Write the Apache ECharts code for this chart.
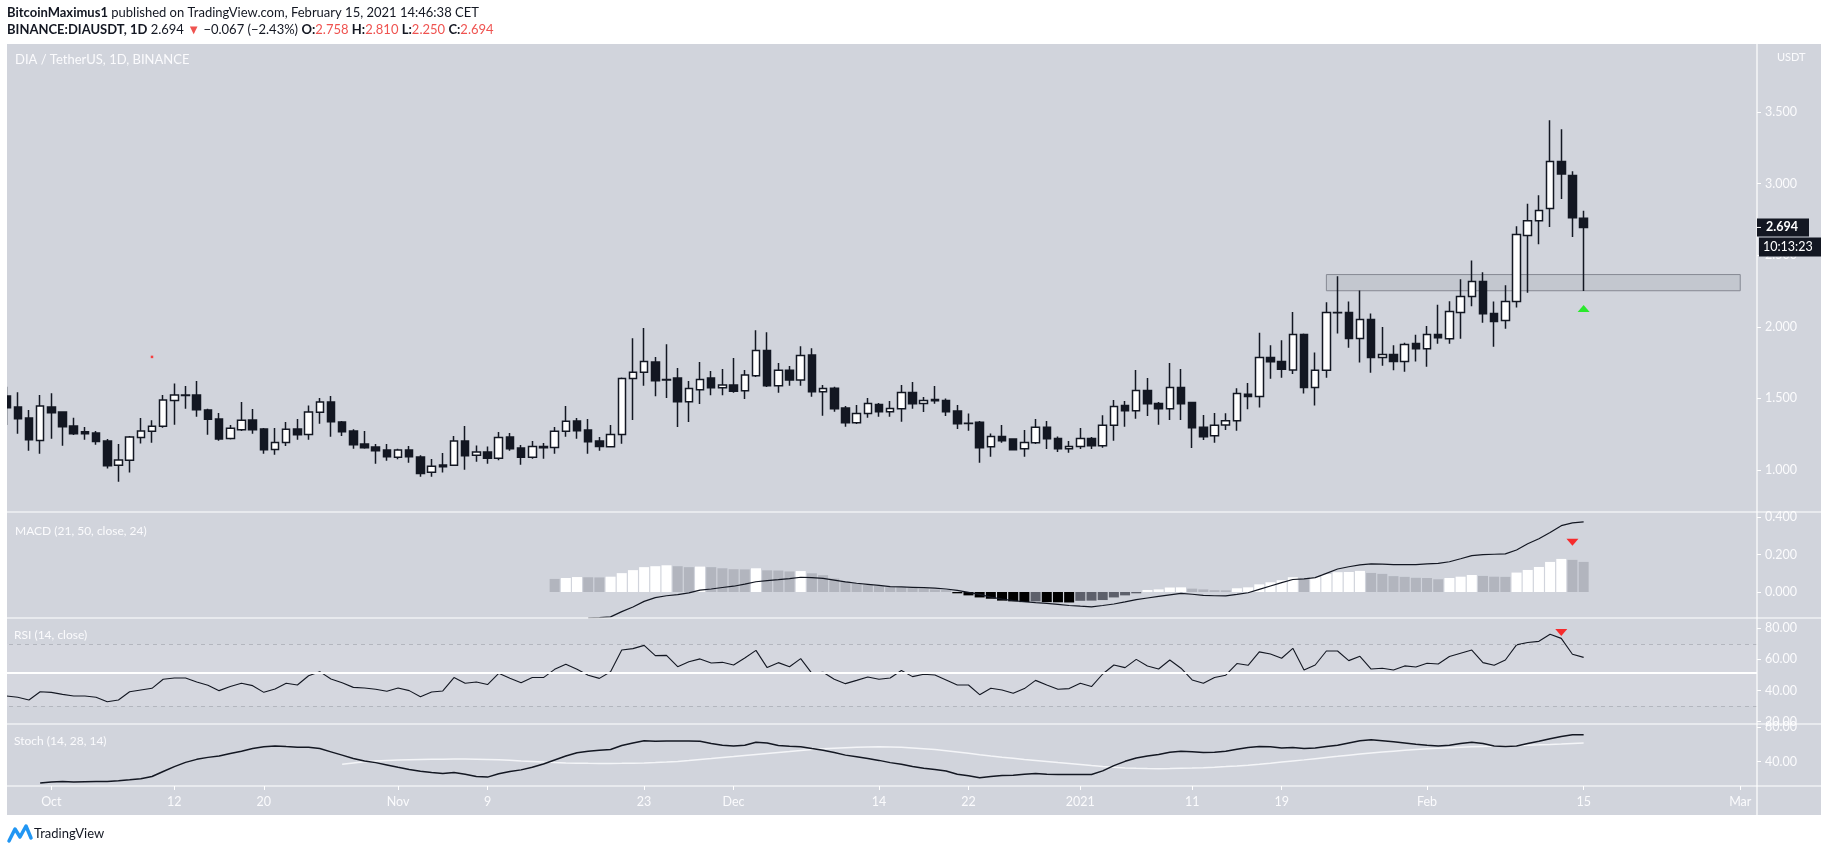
<!DOCTYPE html>
<html><head><meta charset="utf-8">
<script src="https://cdn.jsdelivr.net/npm/echarts@6/dist/echarts.min.js"></script>
<style>html,body{margin:0;padding:0;background:#fff;}#c{width:1828px;height:852px;}</style>
</head><body><div id="c"></div>
<script>
// ---------- categories (daily, Sep 27 2020 .. Mar 2 2021) ----------
const firstDay = '2020-09-27';
const dayCount = 157;
const dates = [];
(function(){ const t0 = Date.parse(firstDay + 'T00:00:00Z');
  for (let i = 0; i < dayCount; i++) dates.push(new Date(t0 + i*86400000).toISOString().slice(0,10)); })();

// ---------- time-axis tick labels ----------
const tickDates  = ['2020-10-01','2020-10-12','2020-10-20','2020-11-01','2020-11-09','2020-11-23','2020-12-01','2020-12-14','2020-12-22','2021-01-01','2021-01-11','2021-01-19','2021-02-01','2021-02-15','2021-03-01'];
const tickLabels = ['Oct','12','20','Nov','9','23','Dec','14','22','2021','11','19','Feb','15','Mar'];

// ---------- price axis / indicator tick values ----------
const priceTicks = [1.0,1.5,2.0,2.5,3.0,3.5];
const macdTicks  = [0,0.2,0.4];
const rsiTicks   = [20,40,60,80];
const stochTicks = [40,80];

// ---------- OHLC (Sep 27 2020 .. Feb 15 2021) ----------
const open = [1.517,1.440,1.363,1.207,
 1.440,1.405,1.307,1.268,1.258,1.203,1.033,1.068,1.228,1.270,
 1.305,1.486,1.524,1.524,1.419,1.356,1.221,1.282,1.349,1.286,
 1.144,1.193,1.286,1.249,1.403,1.475,1.335,1.272,1.182,1.161,1.140,
 1.089,1.140,1.091,0.984,1.035,1.033,1.203,1.103,1.126,1.082,
 1.230,1.154,1.089,1.165,1.158,1.270,1.342,1.279,1.203,1.163,
 1.249,1.640,1.682,1.754,1.633,1.642,1.477,1.561,1.642,1.575,
 1.593,1.554,1.658,1.835,1.589,1.696,1.628,1.803,1.547,1.572,
 1.433,1.330,1.395,1.458,1.407,1.428,1.542,1.465,1.493,1.486,
 1.412,1.325,1.333,1.163,1.235,1.216,1.149,1.191,1.298,1.221,1.149,
 1.165,1.221,1.170,1.312,1.451,1.414,1.556,1.465,1.428,1.577,
 1.472,1.298,1.240,1.314,1.344,1.530,1.514,1.786,1.758,1.698,
 1.947,1.577,1.696,2.100,2.100,1.919,2.051,1.786,1.807,1.758,1.884,
 1.847,1.947,1.917,2.100,2.212,2.317,2.093,2.044,2.177,2.638,
 2.740,2.826,3.154,3.056,2.758];
const high = [1.582,1.544,1.419,1.524,
 1.537,1.410,1.365,1.300,1.272,1.217,1.182,1.238,1.363,1.347,
 1.524,1.605,1.586,1.621,1.428,1.398,1.314,1.475,1.426,1.293,
 1.293,1.335,1.356,1.451,1.503,1.517,1.342,1.284,1.272,1.182,1.182,
 1.149,1.168,1.103,1.077,1.119,1.238,1.307,1.172,1.165,1.265,
 1.258,1.175,1.203,1.189,1.300,1.447,1.363,1.356,1.230,1.314,
 1.647,1.921,1.991,1.789,1.879,1.712,1.621,1.754,1.691,1.705,
 1.782,1.698,1.977,1.963,1.747,1.726,1.865,1.851,1.593,1.582,
 1.447,1.454,1.503,1.468,1.482,1.593,1.614,1.510,1.586,1.500,
 1.454,1.395,1.342,1.256,1.314,1.221,1.279,1.356,1.342,1.235,1.202,
 1.293,1.230,1.382,1.489,1.482,1.698,1.642,1.475,1.747,1.705,
 1.475,1.384,1.398,1.396,1.572,1.607,1.958,1.872,1.907,2.103,
 1.954,1.821,2.172,2.354,2.177,2.254,2.093,1.998,1.872,1.889,1.944,
 2.005,2.154,2.179,2.333,2.463,2.382,2.177,2.291,2.703,2.859,
 2.919,3.442,3.380,3.087,2.810];
const low = [1.314,1.254,1.135,1.114,
 1.219,1.170,1.245,1.212,1.177,1.010,0.919,0.982,1.186,1.191,
 1.296,1.317,1.428,1.372,1.247,1.205,1.214,1.272,1.254,1.114,
 1.107,1.168,1.212,1.212,1.323,1.233,1.238,1.149,1.149,1.044,1.065,
 1.075,1.051,0.954,0.954,0.982,1.030,1.002,1.058,1.044,1.068,
 1.135,1.037,1.079,1.079,1.114,1.233,1.219,1.114,1.135,1.158,
 1.184,1.349,1.589,1.516,1.503,1.300,1.335,1.461,1.523,1.523,
 1.540,1.496,1.650,1.579,1.540,1.589,1.589,1.512,1.379,1.407,
 1.302,1.321,1.365,1.372,1.372,1.337,1.428,1.405,1.463,1.377,
 1.286,1.275,1.051,1.093,1.191,1.140,1.093,1.181,1.147,1.126,1.121,
 1.147,1.147,1.156,1.205,1.302,1.358,1.377,1.316,1.349,1.349,
 1.154,1.209,1.191,1.279,1.275,1.424,1.437,1.637,1.644,1.670,
 1.535,1.451,1.644,1.954,1.854,1.751,1.679,1.728,1.696,1.686,1.758,
 1.721,1.882,1.882,1.917,2.144,2.028,1.861,1.986,2.135,2.238,
 2.577,2.698,2.893,2.628,2.250];
const close = [1.435,1.358,1.212,1.447,
 1.400,1.303,1.254,1.254,1.200,1.030,1.070,1.230,1.272,1.305,
 1.489,1.524,1.521,1.421,1.354,1.217,1.291,1.347,1.282,1.142,
 1.193,1.284,1.247,1.405,1.475,1.337,1.268,1.177,1.156,1.135,1.093,
 1.140,1.093,0.975,1.026,1.023,1.203,1.100,1.126,1.082,1.228,
 1.149,1.089,1.165,1.156,1.270,1.340,1.275,1.198,1.165,1.249,
 1.640,1.682,1.758,1.623,1.628,1.477,1.570,1.633,1.575,1.593,
 1.551,1.663,1.835,1.589,1.696,1.628,1.800,1.547,1.570,1.428,
 1.330,1.395,1.465,1.407,1.430,1.542,1.463,1.486,1.484,1.407,
 1.323,1.326,1.156,1.235,1.205,1.142,1.193,1.298,1.219,1.149,1.165,
 1.221,1.170,1.312,1.444,1.414,1.556,1.463,1.428,1.577,1.463,
 1.296,1.233,1.312,1.344,1.535,1.514,1.786,1.756,1.703,1.947,
 1.577,1.696,2.100,2.098,1.919,2.051,1.786,1.807,1.758,1.877,1.847,
 1.947,1.924,2.107,2.212,2.317,2.091,2.037,2.177,2.645,2.740,
 2.812,3.154,3.068,2.761,2.694];

// ---------- MACD (21, 50, close, 24) ----------
const macdHistStart = '2020-11-15';
const macdHistValues = [0.070,0.075,0.080,0.079,0.078,0.082,
 0.101,0.117,0.133,0.138,0.143,0.138,0.133,0.136,0.133,0.127,
 0.122,0.121,0.127,0.116,0.115,0.110,0.112,0.100,0.090,0.072,
 0.057,0.047,0.039,0.032,0.026,0.025,0.021,0.018,0.014,0.011,
 -0.007,-0.018,-0.029,-0.036,-0.046,-0.050,-0.054,-0.050,-0.054,-0.055,-0.056,
 -0.047,-0.046,-0.043,-0.029,-0.018,-0.007,0.011,0.014,0.024,0.025,
 0.018,0.014,0.010,0.009,0.020,0.025,0.041,0.052,0.063,0.079,
 0.070,0.080,0.096,0.106,0.107,0.113,0.102,0.097,0.085,0.081,0.076,
 0.075,0.068,0.075,0.082,0.091,0.086,0.082,0.081,0.104,0.118,
 0.134,0.161,0.177,0.172,0.161];
const macdLineStart = '2020-11-18';
const macdLineValues = [-0.139,-0.137,-0.133,
 -0.105,-0.080,-0.050,-0.030,-0.020,-0.014,-0.005,0.010,0.016,0.024,
 0.031,0.042,0.055,0.061,0.066,0.072,0.079,0.077,0.073,0.064,
 0.054,0.047,0.041,0.035,0.029,0.027,0.025,0.023,0.021,0.016,
 0.009,-0.002,-0.013,-0.027,-0.038,-0.046,-0.052,-0.057,-0.061,-0.066,-0.072,
 -0.076,-0.079,-0.072,-0.064,-0.053,-0.041,-0.032,-0.023,-0.015,-0.007,
 -0.012,-0.018,-0.020,-0.021,-0.013,-0.004,0.014,0.032,0.050,0.067,
 0.070,0.077,0.100,0.123,0.135,0.145,0.150,0.149,0.147,0.146,0.147,
 0.150,0.153,0.162,0.178,0.195,0.200,0.202,0.204,0.225,0.258,
 0.285,0.318,0.355,0.370,0.375];

// ---------- RSI (14, close), from Sep 27 ----------
const rsiValues = [36.5,35.6,33.9,39.2,
 38.8,37.5,36.5,36.5,35.6,32.8,33.9,39.2,40.3,41.4,
 47.2,48.0,48.0,45.5,43.3,39.9,42.5,44.6,43.1,38.8,
 41.0,44.6,43.5,49.5,52.1,47.4,45.0,42.0,41.6,40.8,39.5,
 41.6,39.9,36.0,39.0,39.7,48.3,44.6,45.5,43.8,51.0,
 47.8,45.0,48.3,48.3,53.6,56.8,53.6,49.8,47.8,52.1,
 66.0,66.9,69.0,62.4,62.6,55.3,58.5,60.3,57.7,58.1,
 56.4,60.9,65.8,54.7,57.9,55.3,60.5,51.0,51.7,47.2,
 44.4,46.5,48.7,47.2,48.0,52.8,48.9,50.4,50.0,46.8,
 43.5,43.5,37.3,41.4,40.3,38.2,41.2,46.5,43.5,40.8,41.2,
 44.6,42.5,50.6,56.4,54.7,60.0,55.8,53.8,59.6,54.3,
 46.8,44.6,48.3,49.8,57.3,56.2,64.8,63.5,60.7,67.1,
 53.2,56.4,65.4,65.4,59.2,62.0,53.8,54.3,53.2,55.8,55.1,
 57.5,57.0,61.8,63.9,66.0,57.9,56.2,59.6,69.3,70.8,
 71.6,76.1,73.5,63.3,61.3];
const rsiUpper = 70, rsiLower = 30, rsiLevel = 51.5;

// ---------- Stoch (14, 28, 14) ----------
const stochKStart = '2020-09-30';
const stochKValues = [15.2,
 16.4,17.1,16.4,16.8,17.1,17.1,17.9,19.0,20.2,22.8,
 28.6,34.3,39.2,42.7,45.0,46.5,49.5,52.2,55.2,57.2,
 58.3,57.5,56.8,56.8,55.2,51.4,47.6,43.8,40.8,38.9,36.2,
 33.5,30.9,29.0,27.4,26.3,27.4,25.5,22.8,22.1,25.9,
 28.6,30.5,33.5,37.3,41.9,46.5,50.3,52.2,53.3,54.1,
 58.7,61.7,64.4,63.6,64.0,64.0,64.0,63.6,61.0,59.0,
 58.3,59.0,62.5,61.7,58.7,57.9,57.2,55.2,53.3,50.6,
 47.6,45.7,43.8,41.5,38.9,37.0,34.3,32.4,30.9,29.3,
 25.5,23.6,21.3,22.8,24.0,24.4,25.5,26.3,25.5,25.1,25.1,
 25.1,25.1,29.3,35.4,40.4,44.2,46.5,48.4,51.0,52.2,
 51.4,50.6,51.0,52.2,54.5,56.4,57.5,57.2,56.0,56.4,
 55.2,56.0,57.5,59.0,61.7,64.4,65.5,64.4,63.2,61.7,60.2,
 59.0,58.3,59.0,61.0,62.5,61.0,58.3,57.5,58.3,61.0,
 63.6,66.7,69.3,71.2,71.2];
const stochDStart = '2020-10-27';
const stochDValues = [37.0,38.5,39.8,40.8,41.5,
 42.0,42.3,42.5,42.7,42.8,43.0,43.0,42.8,42.5,42.2,
 41.6,40.8,40.2,39.5,39.0,38.6,38.3,38.1,38.0,38.0,
 38.1,38.3,38.5,39.0,39.6,40.3,41.4,42.6,43.7,44.9,
 46.0,47.2,48.4,49.6,50.7,51.8,53.0,54.0,55.0,55.7,
 56.3,56.8,57.1,57.2,57.0,56.6,55.9,55.0,54.0,52.7,
 51.2,49.7,48.1,46.6,45.2,43.9,42.6,41.4,40.2,39.0,37.9,
 36.8,35.6,34.5,33.5,32.8,32.3,32.0,31.9,32.0,32.3,
 32.6,33.0,33.6,34.3,35.1,36.0,37.0,38.2,39.5,40.8,
 42.1,43.5,44.9,46.2,47.6,48.8,50.0,51.1,52.2,53.2,54.1,
 54.9,55.6,56.2,56.8,57.3,57.7,58.1,58.4,58.8,59.2,
 59.5,59.9,60.4,61.0,61.6];

// ---------- annotations ----------
const zoneFrom = '2021-01-23', zoneTo = '2021-03-01', zoneTop = 2.365, zoneBottom = 2.252;
const greenArrow = ['2021-02-15', 2.128];
const macdArrow  = ['2021-02-14', 0.266];
const rsiArrow   = ['2021-02-13', 77.3];
const redDot     = ['2020-10-10', 1.79];
const countdown  = '10:13:23';

// ---------- build ----------
function alignFrom(start, vals){ const k = dates.indexOf(start); return new Array(k).fill(null).concat(vals); }
const ohlc = open.map((o,i)=>[o, close[i], low[i], high[i]]);
const macdHist = alignFrom(macdHistStart, macdHistValues);
const macdLine = alignFrom(macdLineStart, macdLineValues);
const stochK = alignFrom(stochKStart, stochKValues);
const stochD = alignFrom(stochDStart, stochDValues);

const FONT = 'Lato';
const LBL = '#fbfbfd';
const L = 1, R = 71;
const grids = [
  {left:L, right:R, top:44,  height:468},
  {left:L, right:R, top:512, height:106},
  {left:L, right:R, top:618, height:106},
  {left:L, right:R, top:724, height:62}
];
const tickSet = new Set(tickDates);
const xAxes = grids.map((g,i)=>({
  type:'category', gridIndex:i, data:dates, boundaryGap:true,
  axisLine:{show:false}, splitLine:{show:false},
  axisTick:{show:i===3, alignWithLabel:true, length:4, interval:(idx,v)=>tickSet.has(v), lineStyle:{color:'#ffffff'}},
  axisLabel:{show:i===3, interval:(idx,v)=>tickSet.has(v), formatter:v=>tickLabels[tickDates.indexOf(v)],
             color:LBL, fontFamily:FONT, fontSize:12.5, margin:9}
}));
function yAx(i, min, max, ticks, dec){
  return {type:'value', gridIndex:i, position:'right', min:min, max:max, scale:true,
    axisLine:{show:false}, splitLine:{show:false},
    axisTick:{show:true, length:4, customValues:ticks, lineStyle:{color:'#ffffff'}},
    axisLabel:{customValues:ticks, formatter:v=>v.toFixed(dec), color:LBL, fontFamily:FONT, fontSize:12.5, margin:8}};
}
const yAxes = [
  yAx(0, 0.707, 3.975, priceTicks, 3),
  yAx(1, -0.139, 0.428, macdTicks, 3),
  yAx(2, 18.45, 86.6, rsiTicks, 2),
  yAx(3, 11.8, 83.7, stochTicks, 2)
];

const chart = echarts.init(document.getElementById('c'));
chart.setOption({
  animation:false, backgroundColor:'#ffffff',
  grid:grids, xAxis:xAxes, yAxis:yAxes,
  series:[
    {type:'candlestick', xAxisIndex:0, yAxisIndex:0, data:ohlc, barWidth:8,
     itemStyle:{color:'#ffffff', color0:'#131722', borderColor:'#131722', borderColor0:'#131722', borderWidth:1.5},
     markArea:{silent:true, itemStyle:{color:'rgba(115,119,130,0.14)', borderColor:'#868993', borderWidth:1},
       data:[[{xAxis:zoneFrom, yAxis:zoneTop},{xAxis:zoneTo, yAxis:zoneBottom}]]}},
    {type:'scatter', xAxisIndex:0, yAxisIndex:0, data:[greenArrow], symbol:'triangle', symbolSize:[12,7],
     itemStyle:{color:'#00ee00'}, z:5},
    {type:'scatter', xAxisIndex:0, yAxisIndex:0, data:[redDot], symbol:'rect', symbolSize:2.5,
     itemStyle:{color:'#ff1a1a'}, z:5},
    {type:'bar', xAxisIndex:1, yAxisIndex:1, data:macdHist, barWidth:10,
     itemStyle:{color:p=>{const v=p.value, pv=macdHist[p.dataIndex-1];
        const rising = (pv!=null && v>pv);
        if (v>=0) return rising ? '#ffffff' : '#b2b5be';
        return rising ? '#5d606b' : '#000000';}}},
    {type:'line', xAxisIndex:1, yAxisIndex:1, data:macdLine, symbol:'none', lineStyle:{color:'#131722', width:1.2}, z:4},
    {type:'scatter', xAxisIndex:1, yAxisIndex:1, data:[macdArrow], symbol:'triangle', symbolRotate:180, symbolSize:[12,7],
     itemStyle:{color:'#ff0000'}, z:5},
    {type:'line', xAxisIndex:2, yAxisIndex:2, data:rsiValues, symbol:'none', lineStyle:{color:'#131722', width:1.1}, z:4,
     markArea:{silent:true, itemStyle:{color:'rgba(255,255,255,0.09)'}, data:[[{yAxis:rsiUpper},{yAxis:rsiLower}]]},
     markLine:{silent:true, symbol:'none', label:{show:false},
       data:[{yAxis:rsiUpper, lineStyle:{color:'#b3b6be', type:[4,4], width:1}},
             {yAxis:rsiLower, lineStyle:{color:'#b3b6be', type:[4,4], width:1}},
             {yAxis:rsiLevel, lineStyle:{color:'#ffffff', type:'solid', width:2}}]}},
    {type:'scatter', xAxisIndex:2, yAxisIndex:2, data:[rsiArrow], symbol:'triangle', symbolRotate:180, symbolSize:[12,7],
     itemStyle:{color:'#ff0000'}, z:5},
    {type:'line', xAxisIndex:3, yAxisIndex:3, data:stochD, symbol:'none', lineStyle:{color:'#f4f5f8', width:1.5}, z:3},
    {type:'line', xAxisIndex:3, yAxisIndex:3, data:stochK, symbol:'none', lineStyle:{color:'#131722', width:1.5}, z:4}
  ]
});

const lastClose = close[close.length-1];
const tagY = chart.convertToPixel({yAxisIndex:0}, lastClose);
const red = '#ef5350';
const hline = (y)=>({type:'line', z:50, shape:{x1:7,y1:y,x2:1821,y2:y}, style:{stroke:'#ffffff', lineWidth:1.2}});
chart.setOption({graphic:[
  {type:'rect', z:-100, shape:{x:7,y:44,width:1814,height:771}, style:{fill:'#d1d4dc'}},
  {type:'rect', z:90, shape:{x:0,y:40,width:7,height:780}, style:{fill:'#ffffff'}},
  hline(512), hline(618), hline(724), hline(786),
  {type:'line', z:50, shape:{x1:1757,y1:44,x2:1757,y2:815}, style:{stroke:'#ffffff', lineWidth:1.2}},
  {type:'text', z:100, x:7, y:6, style:{text:'{b|BitcoinMaximus1} published on TradingView.com, February 15, 2021 14:46:38 CET',
     fill:'#131722', font:'13px '+FONT, rich:{b:{fontWeight:'bold', fontSize:13, fontFamily:FONT}}}},
  {type:'text', z:100, x:7, y:23, style:{text:'{b|BINANCE:DIAUSDT, 1D} 2.694 {r|▼} −0.067 (−2.43%) {b|O:}{r|2.758} {b|H:}{r|2.810} {b|L:}{r|2.250} {b|C:}{r|2.694}',
     fill:'#131722', font:'13px '+FONT, rich:{b:{fontWeight:'bold', fontSize:13, fontFamily:FONT, fill:'#131722'}, r:{fill:red, fontSize:13, fontFamily:FONT}}}},
  {type:'text', z:100, x:15, y:53, style:{text:'DIA / TetherUS, 1D, BINANCE', fill:'#fbfbfd', font:'13px '+FONT}},
  {type:'text', z:100, x:15, y:525, style:{text:'MACD (21, 50, close, 24)', fill:'#fbfbfd', font:'12px '+FONT}},
  {type:'text', z:100, x:14, y:629, style:{text:'RSI (14, close)', fill:'#fbfbfd', font:'12px '+FONT}},
  {type:'text', z:100, x:14, y:735, style:{text:'Stoch (14, 28, 14)', fill:'#fbfbfd', font:'12px '+FONT}},
  {type:'text', z:100, x:1777, y:52, style:{text:'USDT', fill:'#fbfbfd', font:'11px '+FONT}},
  {type:'rect', z:100, shape:{x:1757, y:tagY-9, width:52, height:18}, style:{fill:'#131722'}},
  {type:'line', z:101, shape:{x1:1757,y1:tagY,x2:1761,y2:tagY}, style:{stroke:'#ffffff', lineWidth:1}},
  {type:'text', z:101, x:1766, y:tagY, style:{text:lastClose.toFixed(3), fill:'#ffffff', font:'bold 12.5px '+FONT, verticalAlign:'middle'}},
  {type:'rect', z:100, shape:{x:1759, y:tagY+10, width:62, height:19}, style:{fill:'#131722'}},
  {type:'text', z:101, x:1763, y:tagY+19.5, style:{text:countdown, fill:'#ffffff', font:'12.5px '+FONT, verticalAlign:'middle'}},
  {type:'polyline', z:100, shape:{points:[[9,841],[15,829],[20,837],[26,826],[31,838]]}, style:{stroke:'#2196f3', lineWidth:3.5, fill:null, lineJoin:'round', lineCap:'round'}},
  {type:'text', z:100, x:34, y:834, style:{text:'TradingView', fill:'#131722', font:'13px '+FONT, verticalAlign:'middle'}}
]});
</script></body></html>
